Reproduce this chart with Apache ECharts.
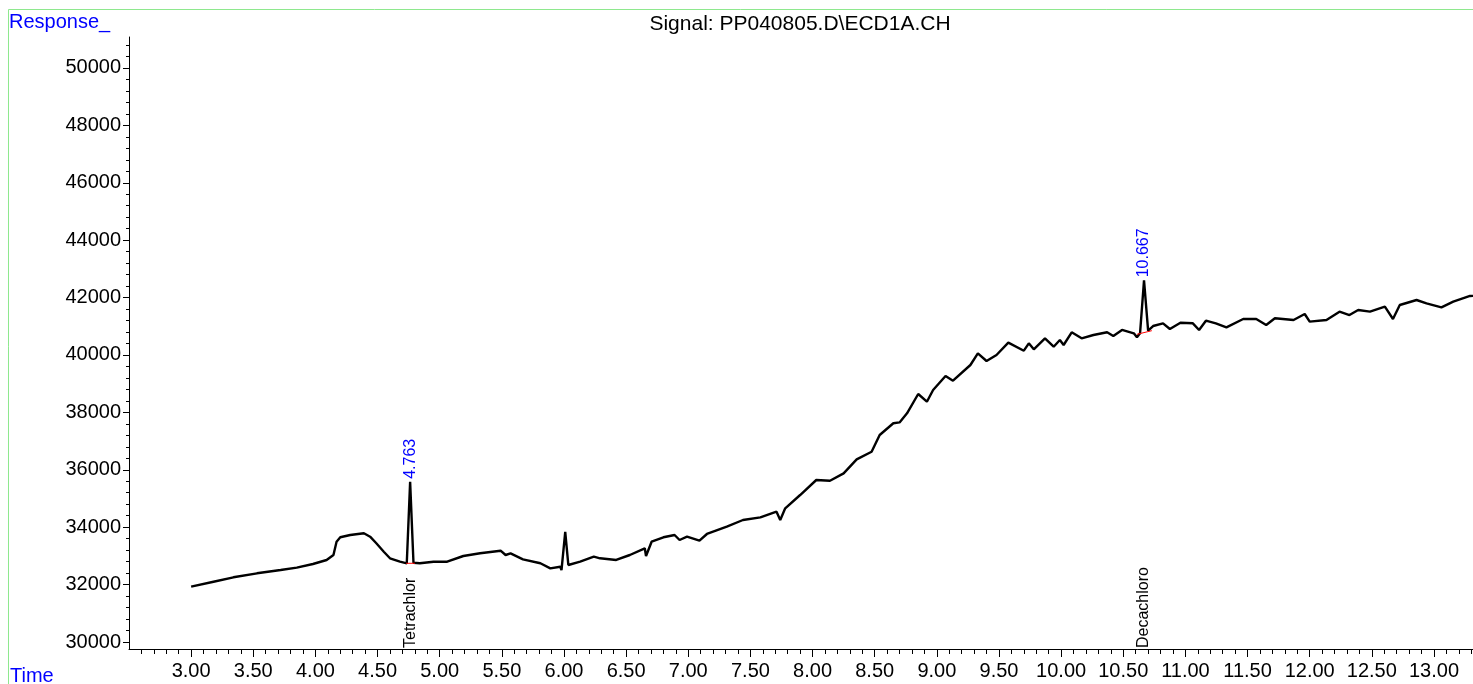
<!DOCTYPE html>
<html>
<head>
<meta charset="utf-8">
<title>Signal: PP040805.D\ECD1A.CH</title>
<script src="https://cdn.jsdelivr.net/npm/echarts@6/dist/echarts.min.js"></script>
<style>
	html, body { margin: 0; padding: 0; background: #fff; }
	#main1 { width: 1473px; height: 684px; }
</style>
</head>
<body>
<div id="main1"></div>
<script>
// trace: retention time (min), response
var times = [
	3.00, 3.18, 3.34, 3.53, 3.72, 3.85, 3.98, 4.09, 4.145, 4.17,
	4.20, 4.28, 4.39, 4.44, 4.49, 4.55, 4.60, 4.68, 4.735, 4.762,
	4.789, 4.84, 4.95, 5.06, 5.19, 5.325, 5.49, 5.53, 5.57, 5.67,
	5.81, 5.89, 5.97, 5.98, 6.01, 6.035, 6.13, 6.24, 6.29, 6.42,
	6.53, 6.65, 6.66, 6.705, 6.80, 6.89, 6.93, 6.99, 7.09, 7.15,
	7.31, 7.44, 7.58, 7.71, 7.74, 7.78, 7.90, 8.03, 8.14, 8.25,
	8.355, 8.475, 8.54, 8.65, 8.70, 8.76, 8.85, 8.92, 8.97, 9.07,
	9.13, 9.27, 9.33, 9.40, 9.48, 9.575, 9.70, 9.74, 9.78, 9.87,
	9.94, 9.99, 10.02, 10.085, 10.165, 10.26, 10.37, 10.42, 10.49, 10.585,
	10.61, 10.635, 10.667, 10.70, 10.74, 10.82, 10.875, 10.96, 11.06, 11.11,
	11.165, 11.245, 11.33, 11.465, 11.57, 11.65, 11.72, 11.87, 11.96, 12.00,
	12.135, 12.24, 12.32, 12.39, 12.485, 12.605, 12.67, 12.725, 12.86, 12.94,
	13.06, 13.155, 13.29, 13.314
];
var response = [
	31927, 32100, 32254, 32393, 32508, 32590, 32718, 32857, 33031, 33494,
	33648, 33728, 33787, 33669, 33439, 33146, 32916, 32798, 32742, 35580,
	32760, 32742, 32798, 32798, 32996, 33090, 33181, 33031, 33090, 32880,
	32742, 32567, 32623, 32508, 33840, 32683, 32798, 32972, 32916, 32857,
	33031, 33265, 32996, 33494, 33648, 33728, 33554, 33669, 33529, 33763,
	34017, 34250, 34344, 34540, 34250, 34658, 35121, 35644, 35620, 35876,
	36364, 36630, 37212, 37620, 37650, 37968, 38640, 38372, 38780, 39268,
	39104, 39651, 40058, 39790, 39999, 40428, 40149, 40406, 40197, 40581,
	40288, 40522, 40347, 40790, 40581, 40696, 40790, 40661, 40871, 40755,
	40615, 40755, 42600, 40846, 41009, 41103, 40905, 41125, 41103, 40870,
	41195, 41103, 40963, 41253, 41253, 41044, 41277, 41218, 41427, 41160,
	41218, 41508, 41392, 41566, 41508, 41682, 41253, 41741, 41915, 41799,
	41660, 41857, 42055, 42060
];

// integrated peaks
var peakTimes = [4.763, 10.667];
var peakTops = [35580, 42600];
var peakNames = ['Tetrachlor', 'Decachloro'];
var baseStart = [[4.73, 32742], [10.61, 40720]];
var baseEnd = [[4.80, 32742], [10.73, 40846]];

// axis ticks
var xTicks = [3.00, 3.50, 4.00, 4.50, 5.00, 5.50, 6.00, 6.50, 7.00, 7.50, 8.00,
	8.50, 9.00, 9.50, 10.00, 10.50, 11.00, 11.50, 12.00, 12.50, 13.00];
var yTicks = [30000, 32000, 34000, 36000, 38000, 40000, 42000, 44000, 46000, 48000, 50000];
var xMin = 2.5, xMax = 13.314;
var yMin = 29756, yMax = 51078;

var xMinor = [];
for (var k = 26; k <= 133; k++) {
	if (k % 5 !== 0) xMinor.push(k / 10);
}
var yMinor = [];
for (var m = 29600; m <= 51000; m += 400) {
	if (m % 2000 !== 0 && m > yMin) yMinor.push(m);
}

var FONT = 'Liberation Sans, Arial, sans-serif';
var myChart = echarts.init(document.getElementById('main1'));

var trace = [];
for (var i = 0; i < times.length; i++) {
	trace.push([times[i], response[i]]);
}

var option = {
	animation: false,
	backgroundColor: '#fff',
	grid: { left: 129, right: 0, top: 37, bottom: 35 },
	xAxis: [{
		type: 'value',
		min: xMin, max: xMax,
		axisLine: { onZero: false, lineStyle: { color: '#000', width: 1 } },
		axisTick: { customValues: xTicks, length: 8, lineStyle: { color: '#000' } },
		axisLabel: {
			customValues: xTicks, margin: 12, color: '#000', fontSize: 20, fontFamily: FONT,
			formatter: function (v) { return v.toFixed(2); }
		},
		splitLine: { show: false }
	}, {
		type: 'value',
		min: xMin, max: xMax,
		position: 'bottom',
		axisLine: { show: false, onZero: false },
		axisTick: { customValues: xMinor, length: 5, lineStyle: { color: '#000' } },
		axisLabel: { show: false },
		splitLine: { show: false }
	}],
	yAxis: [{
		type: 'value',
		min: yMin, max: yMax,
		axisLine: { show: true, onZero: false, lineStyle: { color: '#000', width: 1 } },
		axisTick: { show: true, customValues: yTicks, length: 6, lineStyle: { color: '#000' } },
		axisLabel: {
			customValues: yTicks, margin: 8, color: '#000', fontSize: 20, fontFamily: FONT,
			formatter: function (v) { return String(v); }
		},
		splitLine: { show: false }
	}, {
		type: 'value',
		min: yMin, max: yMax,
		position: 'left',
		axisLine: { show: false, onZero: false },
		axisTick: { show: true, customValues: yMinor, length: 3, lineStyle: { color: '#000' } },
		axisLabel: { show: false },
		splitLine: { show: false }
	}],
	series: [{
		name: 'ECD1A',
		type: 'line',
		data: trace,
		showSymbol: false,
		symbol: 'none',
		lineStyle: { color: '#000', width: 2.4 },
		z: 3
	}, {
		name: 'base1',
		type: 'line',
		data: [baseStart[0], baseEnd[0]],
		symbol: 'none',
		lineStyle: { color: '#ff0000', width: 1 },
		z: 4
	}, {
		name: 'base2',
		type: 'line',
		data: [baseStart[1], baseEnd[1]],
		symbol: 'none',
		lineStyle: { color: '#ff0000', width: 1 },
		z: 4
	}]
};
myChart.setOption(option);

// texts and frame
var gr = [
	{ type: 'line', shape: { x1: 8.5, y1: 9.5, x2: 1473, y2: 9.5 }, style: { stroke: '#8ee88e', lineWidth: 1 } },
	{ type: 'line', shape: { x1: 8.5, y1: 9.5, x2: 8.5, y2: 684 }, style: { stroke: '#8ee88e', lineWidth: 1 } },
	{ type: 'text', x: 9, y: 12, style: { text: 'Response_', fill: '#0000ff', fontSize: 20, fontFamily: FONT, align: 'left', verticalAlign: 'top' } },
	{ type: 'text', x: 10, y: 666, style: { text: 'Time', fill: '#0000ff', fontSize: 20, fontFamily: FONT, align: 'left', verticalAlign: 'top' } },
	{ type: 'text', x: 800, y: 14, style: { text: 'Signal: PP040805.D\\ECD1A.CH', fill: '#000', fontSize: 21, fontFamily: FONT, align: 'center', verticalAlign: 'top' } }
];
for (var p = 0; p < peakTimes.length; p++) {
	var pTop = myChart.convertToPixel({ xAxisIndex: 0, yAxisIndex: 0 }, [peakTimes[p], peakTops[p]]);
	var pBot = myChart.convertToPixel({ xAxisIndex: 0, yAxisIndex: 0 }, [peakTimes[p], yMin]);
	gr.push({ type: 'text', x: pTop[0], y: pTop[1] - 3, rotation: Math.PI / 2,
		style: { text: peakTimes[p].toFixed(3), fill: '#0000ff', fontSize: 16, fontFamily: FONT, align: 'left', verticalAlign: 'middle' } });
	gr.push({ type: 'text', x: pBot[0], y: pBot[1] - 1, rotation: Math.PI / 2,
		style: { text: peakNames[p], fill: '#000', fontSize: 16, fontFamily: FONT, align: 'left', verticalAlign: 'middle' } });
}
myChart.setOption({ graphic: gr });
window.onresize = myChart.resize;
</script>
</body>
</html>
